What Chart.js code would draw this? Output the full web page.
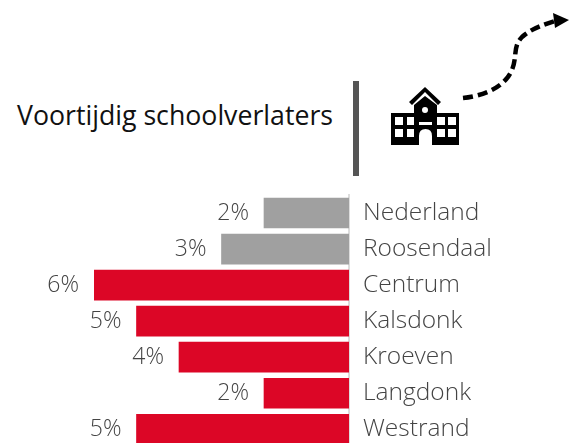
<!DOCTYPE html>
<html lang="nl">
<head>
    <meta charset="UTF-8">
    <title>Voortijdig schoolverlaters</title>
    <script src="https://cdn.jsdelivr.net/npm/chart.js"></script>
    <style>
        html, body { margin: 0; padding: 0; background: #fff; overflow: hidden; }
        body { width: 569px; height: 443px; position: relative; font-family: "Open Sans", sans-serif; }
        #barChart { position: absolute; left: 0; top: 0; }
        .title { position: absolute; left: 17px; top: 99px; font-size: 26.7px; line-height: 32px; color: #111; white-space: nowrap; }
        .divider { position: absolute; left: 353px; top: 81px; width: 6px; height: 95px; background: #555; }
        .header-art { position: absolute; left: 0; top: 0; }
    </style>
</head>
<body>
    <div class="title">Voortijdig schoolverlaters</div>
    <div class="divider"></div>
    <svg class="header-art" width="569" height="190" viewBox="0 0 569 190">
        <!-- dashed arrow -->
        <path d="M463 98 C490 95 505 84 511 72 C518 58 512 47 522 37 C531 29 542 25 555 21" fill="none" stroke="#000" stroke-width="4.5" stroke-dasharray="10 5"/>
        <path d="M553 13 L569 20 L555 28 Z" fill="#000"/>
        <!-- school -->
        <path d="M409 102 L425 87 L441 102 L438 105 L425 92 L412 105 Z" fill="#000"/>
        <path d="M414 113 L414 105 L425 96 L437 105 L437 113 L459 113 L459 145 L432 145 L432 136 Q432 129 425.500 129 Q419 129 419 136 L419 145 L391 145 L391 113 Z" fill="#000"/>
        <circle cx="425" cy="110" r="3" fill="#fff"/>
        <g fill="#fff">
            <rect x="395" y="117" width="8" height="8"/><rect x="407" y="117" width="7" height="8"/>
            <rect x="437" y="117" width="8" height="8"/><rect x="448" y="117" width="8" height="8"/>
            <rect x="395" y="129" width="8" height="8"/><rect x="407" y="129" width="7" height="8"/>
            <rect x="437" y="129" width="8" height="8"/><rect x="448" y="129" width="8" height="8"/>
            <rect x="419" y="122" width="13" height="3"/>
        </g>
    </svg>
    <canvas id="barChart" width="569" height="476"></canvas>

    <script>
        const categories = ['Nederland', 'Roosendaal', 'Centrum', 'Kalsdonk', 'Kroeven', 'Langdonk', 'Westrand'];
        const values = [2, 3, 6, 5, 4, 2, 5];
        const barColors = ['#a0a0a0', '#a0a0a0', '#dc0626', '#dc0626', '#dc0626', '#dc0626', '#dc0626'];

        // percent labels to the left of each bar
        const barLabels = {
            id: 'barLabels',
            afterDatasetsDraw(chart) {
                const ctx = chart.ctx;
                const bars = chart.getDatasetMeta(0).data;
                ctx.save();
                ctx.font = '300 23px "Open Sans", sans-serif';
                ctx.fillStyle = '#444';
                ctx.textAlign = 'right';
                ctx.textBaseline = 'middle';
                bars.forEach((bar, i) => {
                    ctx.fillText(values[i] + '%', bar.x - 15, bar.y);
                });
                ctx.restore();
            }
        };

        new Chart(document.getElementById('barChart'), {
            type: 'bar',
            data: {
                labels: categories,
                datasets: [{
                    data: values,
                    backgroundColor: barColors,
                    barThickness: 30
                }]
            },
            options: {
                indexAxis: 'y',
                responsive: false,
                animation: false,
                layout: { padding: { left: 94, top: 195, bottom: 13, right: 0 } },
                plugins: { legend: { display: false }, tooltip: { enabled: false } },
                scales: {
                    x: { reverse: true, min: 0, max: 6, display: false },
                    y: {
                        position: 'right',
                        afterFit(scale) { scale.width = 220; },
                        grid: { display: false, drawTicks: false },
                        border: { display: true, color: '#dddddd', width: 2 },
                        ticks: {
                            color: '#444',
                            padding: 14,
                            font: { family: '"Open Sans", sans-serif', size: 24.5, weight: '300' }
                        }
                    }
                }
            },
            plugins: [barLabels]
        });
    </script>
</body>
</html>
